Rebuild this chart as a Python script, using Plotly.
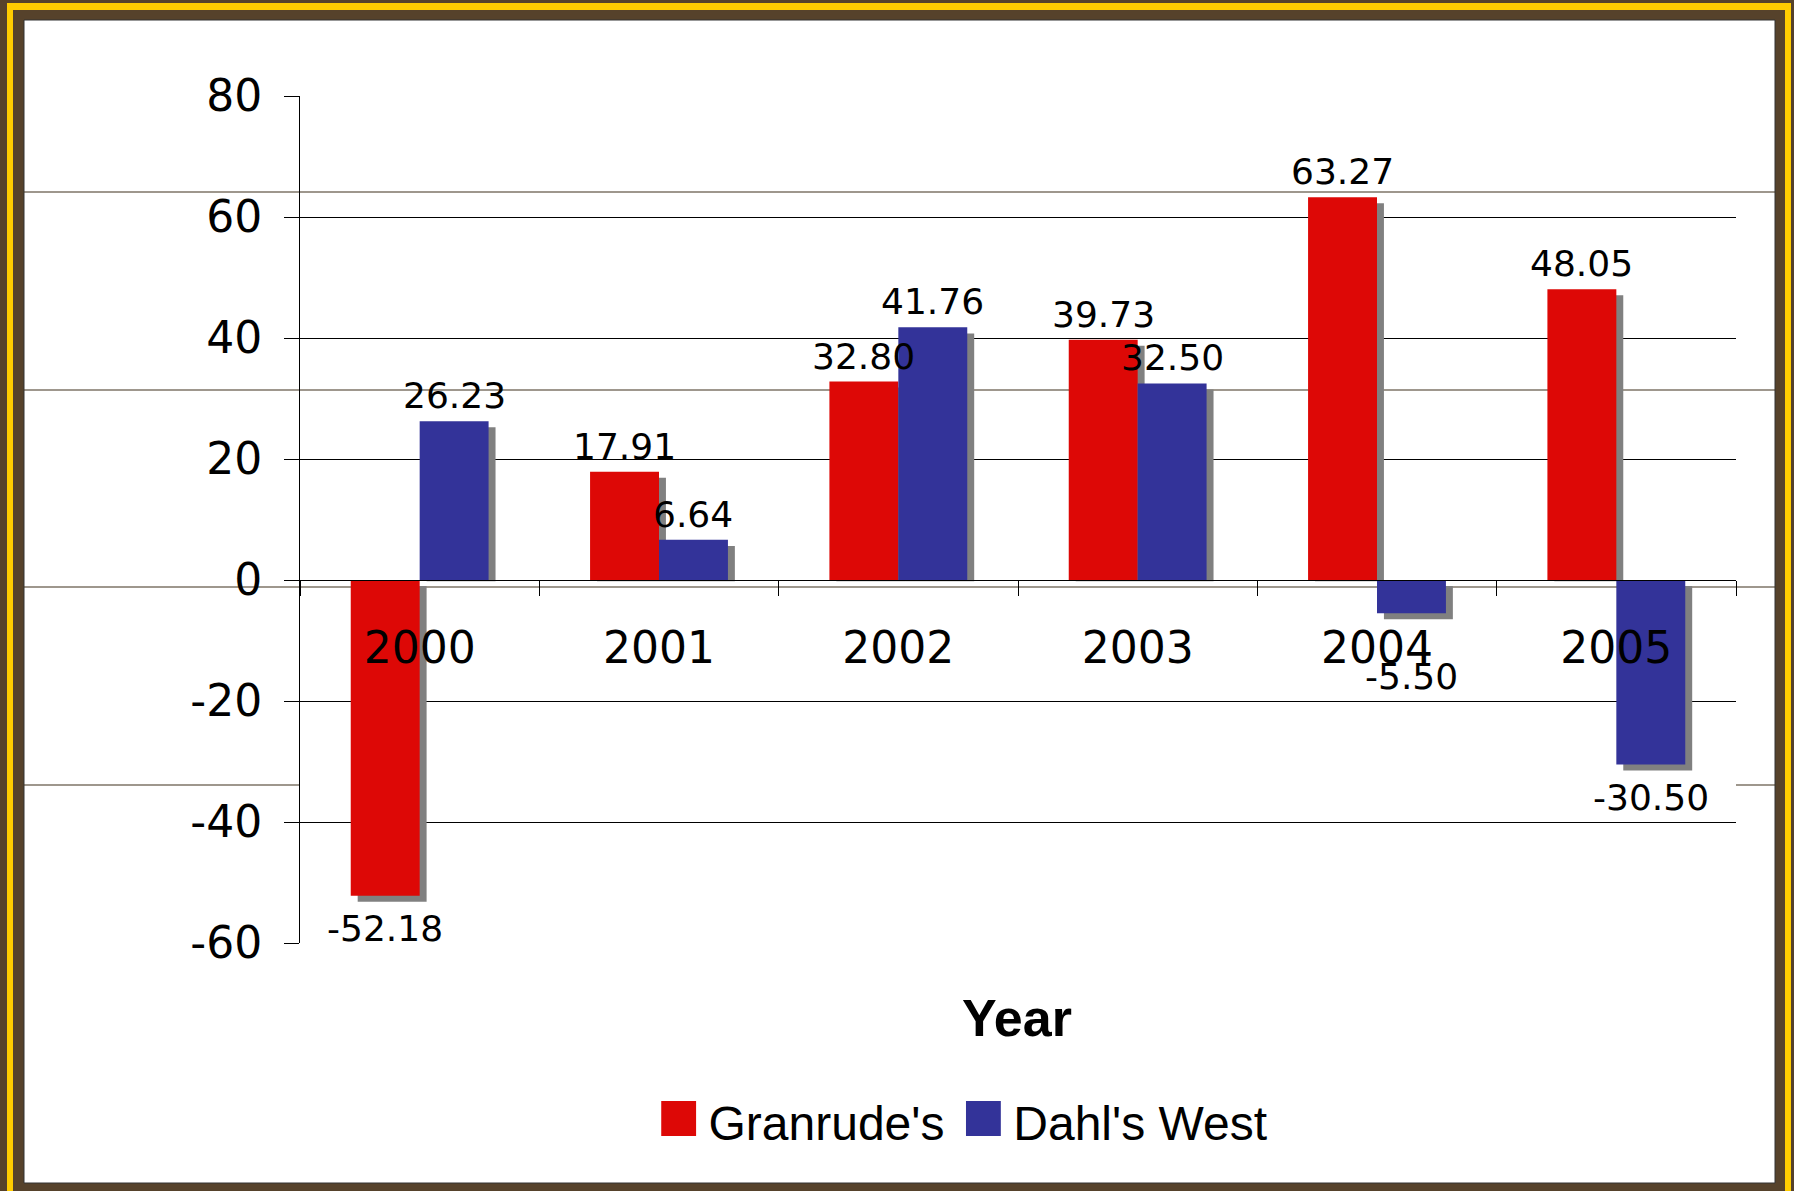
import plotly.graph_objects as go

# ---------------- data ----------------
years = ["2000", "2001", "2002", "2003", "2004", "2005"]
granrudes = [-52.18, 17.91, 32.80, 39.73, 63.27, 48.05]
dahls_west = [26.23, 6.64, 41.76, 32.50, -5.50, -30.50]
series_names = ["Granrude's", "Dahl's West"]
y_tick_values = [-60, -40, -20, 0, 20, 40, 60, 80]
y_tick_labels = ["-60", "-40", "-20", "0", "20", "40", "60", "80"]
x_title = "Year"

# ---------------- layout geometry ----------------
W, H = 1794, 1191
ML, MR, MT, MB = 300, 58, 96, 248
PW, PH = W - ML - MR, H - MT - MB
Y_MIN, Y_MAX = -60, 80


def px(x):
    return (x - ML) / PW


def py(y):
    return (H - MB - y) / PH


RED = "#dd0806"
BLUE = "#333399"
SHADOW = "#808080"
BROWN = "#56422b"
YELLOW = "#ffcc00"
BAR_W = 0.288      # category units
SH_DX = 0.029      # shadow shift in category units
SH_DY = 1.0        # shadow shift in value units
NEG_LABEL_FLOOR = -10.5   # keep negative labels clear of the category labels
BAR_PX = BAR_W * PW / len(years)

TICK_FONT = dict(family="DejaVu Sans, Verdana, sans-serif", size=44, color="black")
LABEL_FONT = dict(family="DejaVu Sans, Verdana, sans-serif", size=36, color="black")
LEG_FONT = dict(family="Liberation Sans, Arial, sans-serif", size=48, color="black")

fig = go.Figure()

series = [(granrudes, series_names[0], RED, -BAR_W), (dahls_west, series_names[1], BLUE, 0.0)]

# shadows first
for vals, name, color, off in series:
    base = [-SH_DY if v < 0 else -0.2 for v in vals]
    length = [v if v < 0 else v - SH_DY + 0.2 for v in vals]
    fig.add_trace(go.Bar(
        x=years, y=length, base=base, width=BAR_W, offset=off + SH_DX,
        marker=dict(color=SHADOW, line=dict(width=0)),
        showlegend=False, hoverinfo="skip",
    ))

annotations = []
for vals, name, color, off in series:
    fig.add_trace(go.Bar(
        x=years, y=vals, name=name, width=BAR_W, offset=off,
        marker=dict(color=color, line=dict(width=0)),
        showlegend=False,
    ))
    xs = -BAR_PX / 2 if off < 0 else BAR_PX / 2
    for i, v in enumerate(vals):
        if v >= 0:
            annotations.append(dict(x=i, y=v, xref="x", yref="y", text=f"{v:.2f}", showarrow=False,
                                    xanchor="center", yanchor="bottom", xshift=xs, yshift=3,
                                    font=LABEL_FONT))
        else:
            annotations.append(dict(x=i, y=min(v, NEG_LABEL_FLOOR), xref="x", yref="y", text=f"{v:.2f}",
                                    showarrow=False, xanchor="center", yanchor="top", xshift=xs, yshift=-10,
                                    font=LABEL_FONT))

# legend (swatch glyph + name)
legend_text = " \u200a".join(
    f"<span style='color:{c};font-size:72px'>■</span>\u2006{n}"
    for n, c in zip(series_names, (RED, BLUE))
)
annotations.append(dict(text=legend_text, xref="paper", yref="paper", x=px(962), y=py(1115),
                        xanchor="center", yanchor="middle", showarrow=False, font=LEG_FONT))

annotations.append(dict(text=x_title, xref="paper", yref="paper", x=px(1017), y=py(1018),
                        xanchor="center", yanchor="middle", showarrow=False,
                        font=dict(family="Liberation Sans, Arial, sans-serif", size=52, color="black",
                                  weight="bold")))

shapes = [
    dict(type="rect", xref="paper", yref="paper", x0=px(7), x1=px(1791), y0=py(3), y1=py(1260),
         fillcolor=YELLOW, line=dict(width=0), layer="below"),
    dict(type="rect", xref="paper", yref="paper", x0=px(13), x1=px(1785), y0=py(10), y1=py(1260),
         fillcolor=BROWN, line=dict(width=0), layer="below"),
    dict(type="rect", xref="paper", yref="paper", x0=px(24), x1=px(1775), y0=py(20), y1=py(1183),
         fillcolor="white", line=dict(width=1, color="#333333"), layer="below"),
]
LINE_C = "#3f301d"
for yy in (192, 390, 587):
    shapes.append(dict(type="line", xref="paper", yref="paper", x0=px(24), x1=px(1775), y0=py(yy), y1=py(yy),
                       line=dict(color=LINE_C, width=1.2), layer="below"))
for xa, xb in ((24, 300), (1736, 1775)):
    shapes.append(dict(type="line", xref="paper", yref="paper", x0=px(xa), x1=px(xb), y0=py(785), y1=py(785),
                       line=dict(color=LINE_C, width=1.2), layer="below"))

fig.update_layout(
    width=W, height=H,
    margin=dict(l=ML, r=MR, t=MT, b=MB, pad=0),
    paper_bgcolor=BROWN, plot_bgcolor="rgba(0,0,0,0)",
    barmode="overlay",
    showlegend=False,
    shapes=shapes,
    annotations=annotations,
    xaxis=dict(type="category", range=[-0.5, len(years) - 0.5], anchor="free",
               position=(0 - Y_MIN) / (Y_MAX - Y_MIN),
               showline=True, linecolor="black", linewidth=1,
               ticks="outside", tickson="boundaries", ticklen=15, tickcolor="black", tickwidth=1,
               showgrid=False, tickfont=TICK_FONT, ticklabelstandoff=29, fixedrange=True),
    yaxis=dict(range=[Y_MIN, Y_MAX], tickvals=y_tick_values, ticktext=y_tick_labels,
               showline=True, linecolor="black", linewidth=1,
               ticks="outside", ticklen=15, tickcolor="black", tickwidth=1,
               showgrid=True, gridcolor="black", gridwidth=1, zeroline=False,
               tickfont=TICK_FONT, ticklabelstandoff=13, fixedrange=True),
)

fig.write_html("out.html", config={"displayModeBar": False},
               post_script="document.body.style.margin='0';document.body.style.overflow='hidden';")
